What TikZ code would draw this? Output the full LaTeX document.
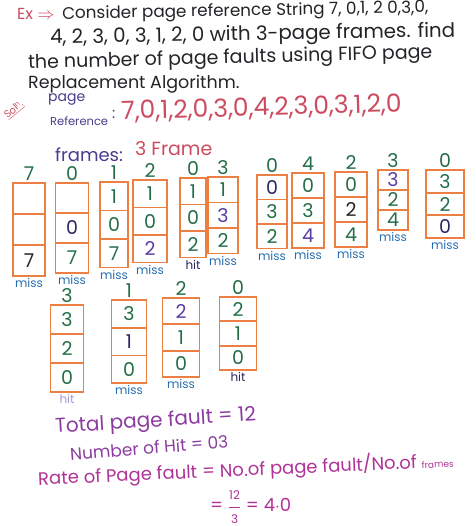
\documentclass[tikz,border=0pt]{standalone}
\usepackage{fontspec}
\setmainfont{Poppins}
\usetikzlibrary{positioning}
\definecolor{ink}{RGB}{35,35,40}
\definecolor{cRed}{RGB}{205,75,95}
\definecolor{cPurp}{RGB}{75,60,140}
\definecolor{cBox}{RGB}{236,128,66}
\definecolor{cGreen}{RGB}{35,110,70}
\definecolor{cNavy}{RGB}{40,40,100}
\definecolor{cViol}{RGB}{90,60,165}
\definecolor{cMiss}{RGB}{40,110,175}
\definecolor{cLav}{RGB}{170,150,210}
\definecolor{cMag}{RGB}{175,50,150}
\definecolor{cPlum}{RGB}{140,60,160}
\tikzset{
  cell/.style={draw=cBox,line width=1.8pt,inner sep=0pt,outer sep=0pt,
    text=cGreen,font=\fontsize{19}{19}\selectfont},
  ref/.style={text=cGreen,font=\fontsize{19}{19}\selectfont,inner sep=1pt},
  stat/.style={font=\fontsize{12}{12}\selectfont,inner sep=1pt},
  hand/.style={text=ink,font=\fontsize{15}{18}\selectfont,inner sep=0pt,anchor=west},
}
\newcommand{\digN}[1]{\textcolor{cNavy}{#1}}
\newcommand{\digP}[1]{\textcolor{cViol}{#1}}
\newcommand{\digK}[1]{\textcolor{ink}{#1}}
\newcommand{\fsz}[1]{\fontsize{#1}{#1}\selectfont}

\begin{document}
\begin{tikzpicture}[x=1pt,y=1pt]
  \useasboundingbox (0,0) rectangle (475,-526);
  % question
  \node[hand,text=cRed,font=\fsz{16}] (ex) at (17,-14) {Ex $\Rightarrow$};
  \node[hand,rotate=1,font=\fsz{16.8}] (q1) at (62,-15) {Consider page reference String 7, 0,1, 2 0,3,0,};
  \node[hand,rotate=1,font=\fsz{19.8}] (q2) at (50,-39) {4, 2, 3, 0, 3, 1, 2, 0 with 3-page frames. find};
  \node[hand,rotate=1.5,font=\fsz{19}] (q3) at (28,-64) {the number of page faults using FIFO page};
  \node[hand,font=\fsz{17.5}] (q4) at (28,-84) {Replacement Algorithm.};

  % solution header
  \node[text=cRed,rotate=40,inner sep=0pt,font=\fsz{10}] (sol) at (14,-110)
     {\underline{Sol\raisebox{3pt}{\fsz{7}n}.}};
  \node[hand,text=cPurp,font=\fsz{14}] (pg) at (48,-99) {page};
  \node[hand,text=cPurp,font=\fsz{11.5}] (rf) at (50,-121) {Reference};
  \node[hand,text=cPurp] (col) at (112,-114) {:};
  \node[hand,text=cRed,rotate=1.5,font=\fsz{25}] (str) at (121,-112)
     {7,0,1,2,0,3,0,4,2,3,0,3,1,2,0};
  \node[hand,text=cPurp,font=\fsz{18}] (frm) at (55,-155) {frames:};
  \node[hand,text=cRed,font=\fsz{19}] (nfr) at (135,-149) {3 Frame};

  % frame columns
  \foreach \n/\x/\y/\h/\w/\r/\a/\b/\c/\s/\sc in {
    c1/29/183/31/32/7/{}/{}/\digK{7}/miss/cMiss,
    c2/72/183/30/33/0/{}/\digN{0}/7/miss/cMiss,
    c3/114/182/28.5/28/1/1/0/7/miss/cMiss,
    c4/150/180/27.5/34/2/1/0/\digP{2}/miss/cMiss,
    c5/193/178/26.5/26/0/1/0/2/hit/cNavy,
    c6/223/177/25.5/30/3/1/\digP{3}/2/miss/cMiss,
    c7/272/175/24.5/30/0/\digN{0}/3/2/miss/cMiss,
    c8/308/173/25/32/4/0/3/\digP{4}/miss/cMiss,
    c9/351/172/25/32/2/0/\digK{2}/4/miss/cMiss,
    c10/393/170/20/30/3/\digP{3}/2/4/miss/cMiss,
    c11/445/170/22.7/38/0/3/2/\digN{0}/miss/cMiss,
    c12/67/305/29/33/3/3/2/0/hit/cLav,
    c13/129/300/27.7/35/1/3/\digN{1}/0/miss/cMiss,
    c14/181/298/26.3/37/2/\digP{2}/1/0/miss/cMiss,
    c15/238/297/24.3/37/0/2/1/0/hit/cNavy}{
    \node[cell,minimum width=\w pt,minimum height=\h pt,anchor=north] (\n-a) at (\x,-\y) {\a};
    \node[cell,minimum width=\w pt,minimum height=\h pt,below=0pt of \n-a] (\n-b) {\b};
    \node[cell,minimum width=\w pt,minimum height=\h pt,below=0pt of \n-b] (\n-c) {\c};
    \node[ref,above=1pt of \n-a] (\n-r) {\r};
    \node[stat,text=\sc,below=1.5pt of \n-c] (\n-s) {\s};
  }

  % result
  \node[hand,text=cPlum,rotate=3.5,font=\fsz{20}] (tot) at (55,-428)
     {Total page fault = 12};
  \node[hand,text=cPlum,rotate=4.5,font=\fsz{17}] (hit) at (70,-454) {Number of Hit = 03};
  \node[hand,text=cMag,rotate=2.5,font=\fsz{18}] (rate) at (38,-479)
     {Rate of Page fault = No.of page fault/No.of {\fsz{9}frames}};
  \node[hand,text=cMag,font=\fsz{18}] (res) at (210,-507)
     {= $\displaystyle\frac{\mbox{\fsz{12}12}}{\mbox{\fsz{12}3}}$ = 4$\cdot$0};
\end{tikzpicture}
\end{document}
